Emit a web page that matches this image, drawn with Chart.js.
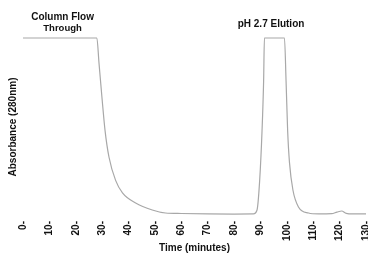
<!DOCTYPE html>
<html>
<head>
<meta charset="utf-8">
<script src="https://cdn.jsdelivr.net/npm/chart.js@4/dist/chart.umd.min.js"></script>
<style>
  html, body { margin: 0; padding: 0; background: #fff; }
  #wrap { width: 368px; height: 254px; position: relative; }
</style>
</head>
<body>
<div id="wrap"><canvas id="c"></canvas></div>
<script>
// 溶出クロマトグラム (280nm)
const timeMin = [0, 10, 20, 28.0, 28.8, 29.9, 31.1, 32.6, 35.1, 37.7, 42.7, 49.0, 54.0, 60, 70, 80,
  87.3, 88.7, 89.7, 90.6, 91.2, 91.5, 99.1, 99.7, 100.3, 101.0, 102.3, 104.4, 108.2, 112,
  117, 119, 120.8, 122.5, 125, 130];
const absorbance = [100, 100, 100, 100, 86, 67, 48, 33, 20, 13, 7.3, 3.4, 1.7, 1.4, 1.2, 1.1,
  1.2, 3.4, 20, 48, 76, 100, 100, 76, 48, 30, 14.6, 5.1, 1.7, 1.2,
  1.3, 2.2, 2.8, 1.5, 1.2, 1.2];
const xTicks = [0, 10, 20, 30, 40, 50, 60, 70, 80, 90, 100, 110, 120, 130];
const notes = [
  { x: 15, lines: ['Column Flow', 'Through'] },
  { x: 94, lines: ['pH 2.7 Elution'] }
];

const FONT = "'Liberation Sans', Arial, sans-serif";

const notePlugin = {
  id: 'notes',
  afterDraw(chart) {
    const { ctx, chartArea, scales } = chart;
    ctx.save();
    ctx.fillStyle = '#111';
    ctx.textAlign = 'center';
    ctx.textBaseline = 'middle';
    notes.forEach(n => {
      const px = scales.x.getPixelForValue(n.x);
      if (n.lines.length === 2) {
        ctx.font = 'bold 10px ' + FONT;
        ctx.fillText(n.lines[0], px, chartArea.top - 21);
        ctx.font = 'bold 9.5px ' + FONT;
        ctx.fillText(n.lines[1], px, chartArea.top - 10);
      } else {
        ctx.font = 'bold 10px ' + FONT;
        ctx.fillText(n.lines[0], px, chartArea.top - 14);
      }
    });
    ctx.restore();
  }
};

new Chart(document.getElementById('c'), {
  type: 'line',
  data: {
    datasets: [{
      data: timeMin.map((t, i) => ({ x: t, y: absorbance[i] })),
      borderColor: '#a8a8a8',
      borderWidth: 1.2,
      pointRadius: 0,
      cubicInterpolationMode: 'monotone',
      fill: false,
      clip: 3
    }]
  },
  options: {
    responsive: true,
    maintainAspectRatio: false,
    animation: false,
    layout: { padding: { left: 3, right: 2, top: 38, bottom: 0 } },
    plugins: { legend: { display: false }, tooltip: { enabled: false } },
    scales: {
      x: {
        type: 'linear',
        min: 0,
        max: 130,
        afterBuildTicks: axis => { axis.ticks = xTicks.map(v => ({ value: v })); },
        afterFit: axis => { axis.paddingLeft = 0; axis.paddingRight = 0; axis.height = 38; },
        grid: { display: false, drawTicks: false },
        border: { display: false },
        ticks: {
          minRotation: 90,
          maxRotation: 90,
          padding: 5,
          color: '#111',
          font: { family: FONT, size: 10, weight: 'bold' },
          callback: v => v + '-'
        },
        title: {
          display: true,
          text: 'Time (minutes)',
          color: '#111',
          padding: { top: 2, bottom: 0 },
          font: { family: FONT, size: 10, weight: 'bold' }
        }
      },
      y: {
        min: 0,
        max: 100,
        grid: { display: false, drawTicks: false },
        border: { display: false },
        ticks: { display: false },
        title: {
          display: true,
          text: 'Absorbance (280nm)',
          color: '#111',
          font: { family: FONT, size: 10, weight: 'bold' }
        }
      }
    }
  },
  plugins: [notePlugin]
});
</script>
</body>
</html>
